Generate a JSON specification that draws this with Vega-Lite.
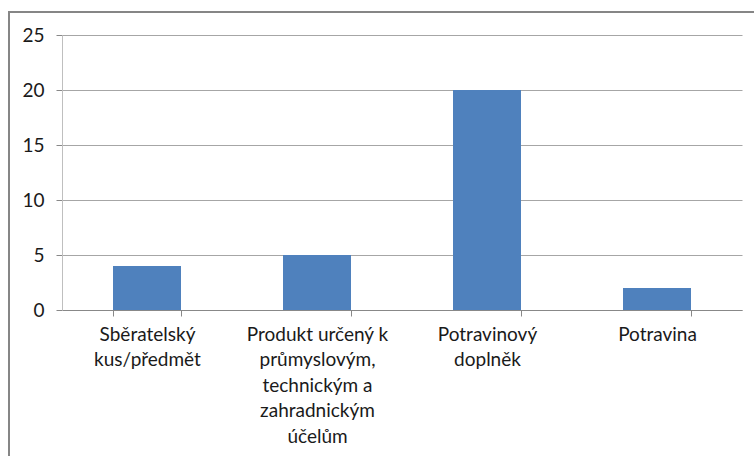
{
  "$schema": "https://vega.github.io/schema/vega-lite/v6.json",
  "autosize": {"type": "none"},
  "padding": {"left": 62, "top": 35, "right": 12, "bottom": 146},
  "width": 680,
  "height": 275,
  "background": "white",
  "data": {
    "values": [
      {"kategorie": "Sběratelský\nkus/předmět", "pocet": 4},
      {"kategorie": "Produkt určený k\nprůmyslovým,\ntechnickým a\nzahradnickým\núčelům", "pocet": 5},
      {"kategorie": "Potravinový\ndoplněk", "pocet": 20},
      {"kategorie": "Potravina", "pocet": 2}
    ]
  },
  "mark": {"type": "bar", "color": "#4f81bd"},
  "encoding": {
    "x": {
      "field": "kategorie",
      "type": "nominal",
      "sort": null,
      "scale": {"paddingInner": 0.6, "paddingOuter": 0.3},
      "axis": {
        "title": null,
        "labelAngle": 0,
        "labelExpr": "split(datum.label, '\\n')",
        "labelAlign": "center",
        "labelBaseline": "top",
        "labelLineHeight": 25.5,
        "labelLimit": 0,
        "labelPadding": 9,
        "tickBand": "extent",
        "tickSize": 6,
        "tickColor": "#888888",
        "domainColor": "#888888",
        "grid": false
      }
    },
    "y": {
      "field": "pocet",
      "type": "quantitative",
      "scale": {"domain": [0, 25], "nice": false},
      "axis": {
        "title": null,
        "values": [0, 5, 10, 15, 20, 25],
        "tickSize": 6,
        "labelPadding": 12,
        "tickColor": "#888888",
        "domainColor": "#bfbfbf",
        "gridColor": "#a6a6a6",
        "grid": true
      }
    },
    "color": {
      "field": "pocet",
      "type": "quantitative",
      "scale": {"range": ["#4f81bd", "#4f81bd"]},
      "legend": {
        "orient": "none",
        "legendX": -53,
        "legendY": -23,
        "direction": "horizontal",
        "gradientLength": 400,
        "gradientThickness": 1,
        "gradientOpacity": 0,
        "gradientStrokeWidth": 0,
        "labelOpacity": 0,
        "title": null,
        "padding": 230,
        "strokeColor": "#868686",
        "fillColor": null
      }
    }
  },
  "config": {
    "font": "Lato",
    "view": {"stroke": null},
    "axis": {
      "labelFont": "Lato",
      "labelFontSize": 19,
      "labelColor": "#1a1a1a",
      "domainWidth": 1,
      "gridWidth": 1
    },
    "legend": {"strokeWidth": 2}
  }
}
